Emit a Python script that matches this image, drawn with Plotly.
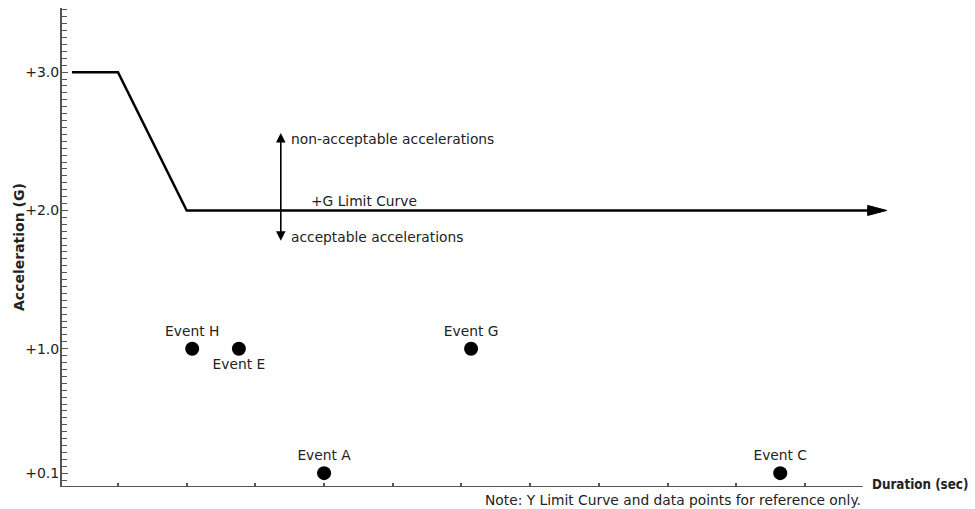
import numpy as np
import plotly.graph_objects as go

# Limit curve vertices (duration ticks are unitless positions, acceleration in G)
limit_x = [0.33, 1.0, 2.0, 12.19]
limit_y = [3.0, 3.0, 2.0, 2.0]

# Events
event_names = ["Event H", "Event E", "Event G", "Event A", "Event C"]
event_x = [2.08, 2.76, 6.14, 4.0, 10.64]
event_y = [1.0, 1.0, 1.0, 0.1, 0.1]
event_textpos = ["top center", "bottom center", "top center", "top center", "top center"]

# Axis ticks
y_tickvals = [0.1, 1.0, 2.0, 3.0]
y_ticktext = ["+0.1", "+1.0", "+2.0", "+3.0"]
x_tickvals = list(range(1, 12))

# Double arrow separating acceptable / non-acceptable zones
zone_arrow_x = 3.37
zone_arrow_top = 2.56
zone_arrow_bottom = 1.77

X_MIN, X_AXIS_END, X_MAX = 0.185, 11.84, 12.5
Y_MIN, Y_MAX = 0.0, 3.464

FONT = "DejaVu Sans"
TEXT_COLOR = "#222222"
AXIS_COLOR = "#555555"
LABEL_SIZE = 13.8

MARGIN_L, MARGIN_R, MARGIN_T, MARGIN_B = 62, 67, 8, 22
W, H = 975, 509
plot_w = W - MARGIN_L - MARGIN_R
plot_h = H - MARGIN_T - MARGIN_B

fig = go.Figure()

# Limit curve (last segment ends in an arrowhead)
fig.add_trace(go.Scatter(
    x=limit_x[:-1] + [limit_x[-1] - 0.25],
    y=limit_y,
    mode="lines",
    line=dict(color="black", width=2.5),
    hoverinfo="skip",
))

# Event markers with labels
fig.add_trace(go.Scatter(
    x=event_x, y=event_y,
    mode="markers+text",
    marker=dict(color="black", size=14),
    text=event_names,
    textposition=event_textpos,
    textfont=dict(family=FONT, size=LABEL_SIZE, color=TEXT_COLOR),
    cliponaxis=False,
    hoverinfo="skip",
))

px_per_x = plot_w / (X_MAX - X_MIN)
px_per_y = plot_h / (Y_MAX - Y_MIN)
tip_x, tip_y = limit_x[-1], limit_y[-1]
half_h = 5.0 / px_per_y
head_len = 19.0 / px_per_x

shapes = [
    # arrowhead at the end of the limit curve
    dict(type="path", xref="x", yref="y",
         path=f"M {tip_x - head_len},{tip_y - half_h} L {tip_x},{tip_y} L {tip_x - head_len},{tip_y + half_h} Z",
         fillcolor="black", line=dict(color="black", width=1)),
    # x axis line
    dict(type="line", xref="x", yref="y", x0=X_MIN, x1=X_AXIS_END, y0=Y_MIN, y1=Y_MIN,
         line=dict(color=AXIS_COLOR, width=2)),
]

annotations = [
    dict(x=zone_arrow_x, y=zone_arrow_top, ax=zone_arrow_x, ay=zone_arrow_bottom,
         xref="x", yref="y", axref="x", ayref="y", text="",
         showarrow=True, arrowhead=2, startarrowhead=2, arrowside="end+start",
         arrowsize=1.2, startarrowsize=1.2, arrowwidth=1.6, arrowcolor="black"),
    dict(x=zone_arrow_x, y=2.52, xref="x", yref="y", text="non-acceptable accelerations",
         showarrow=False, xanchor="left", yanchor="middle", xshift=8,
         font=dict(family=FONT, size=LABEL_SIZE, color=TEXT_COLOR)),
    dict(x=zone_arrow_x, y=1.81, xref="x", yref="y", text="acceptable accelerations",
         showarrow=False, xanchor="left", yanchor="middle", xshift=8,
         font=dict(family=FONT, size=LABEL_SIZE, color=TEXT_COLOR)),
    dict(x=zone_arrow_x, y=2.065, xref="x", yref="y", text="+G Limit Curve",
         showarrow=False, xanchor="left", yanchor="middle", xshift=28,
         font=dict(family=FONT, size=LABEL_SIZE, color=TEXT_COLOR)),
    dict(x=X_AXIS_END, y=Y_MIN, xref="x", yref="y", text="<b>Duration (sec)</b>",
         showarrow=False, xanchor="left", yanchor="middle", xshift=7, yshift=3,
         font=dict(family="DejaVu Sans Condensed, DejaVu Sans", size=13.3, color=TEXT_COLOR)),
    dict(x=X_AXIS_END, y=Y_MIN, xref="x", yref="y",
         text="Note: Y Limit Curve and data points for reference only.",
         showarrow=False, xanchor="right", yanchor="middle", yshift=-13,
         font=dict(family=FONT, size=13.8, color=TEXT_COLOR)),
    # y axis title
    dict(x=(18.5 - MARGIN_L) / plot_w, y=0.5, xref="paper", yref="paper",
         text="<b>Acceleration (G)</b>", textangle=-90, showarrow=False,
         xanchor="center", yanchor="middle",
         font=dict(family=FONT, size=14, color=TEXT_COLOR)),
]

minor_vals = [v for v in np.round(np.arange(0.05, Y_MAX, 0.05), 3) if v not in y_tickvals]

fig.update_layout(
    width=W, height=H,
    margin=dict(l=MARGIN_L, r=MARGIN_R, t=MARGIN_T, b=MARGIN_B),
    paper_bgcolor="white", plot_bgcolor="white",
    showlegend=False,
    shapes=shapes,
    annotations=annotations,
    xaxis=dict(
        range=[X_MIN, X_MAX], showgrid=False, zeroline=False, showline=False,
        tickmode="array", tickvals=x_tickvals, showticklabels=False,
        ticks="inside", ticklen=4, tickwidth=1.5, tickcolor=AXIS_COLOR,
    ),
    yaxis=dict(
        range=[Y_MIN, Y_MAX], showgrid=False, zeroline=False,
        showline=True, linecolor=AXIS_COLOR, linewidth=2,
        tickmode="array", tickvals=y_tickvals, ticktext=y_ticktext,
        ticks="inside", ticklen=6, tickwidth=1.2, tickcolor=AXIS_COLOR,
        tickfont=dict(family=FONT, size=14, color=TEXT_COLOR),
        ticklabelstandoff=-2,
        minor=dict(tickmode="array", tickvals=minor_vals, ticks="inside",
                   ticklen=5, tickwidth=1.2, tickcolor=AXIS_COLOR),
    ),
)

fig.write_html("out.html")
